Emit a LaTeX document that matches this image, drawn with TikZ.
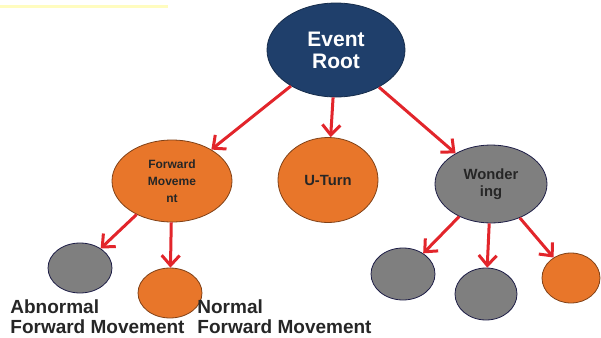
\documentclass[tikz,border=0pt]{standalone}
\usepackage{fontspec}
\setmainfont{Liberation Sans}
\usepackage{tikz}
\usetikzlibrary{shapes.geometric, arrows.meta}
\definecolor{rootBlue}{HTML}{1F3F6B}
\definecolor{evOrange}{HTML}{E8762A}
\definecolor{evGray}{HTML}{7F7F7F}
\definecolor{evRed}{HTML}{E2252B}

\begin{document}
\begin{tikzpicture}[
    x=0.5pt, y=-0.5pt,
    event/.style={ellipse, inner sep=0pt, align=center, font=\bfseries\fontsize{7.4}{8.5}\selectfont, text=black!85},
    rootev/.style={event, fill=rootBlue, draw=rootBlue!70!black, text=white, font=\bfseries\fontsize{10.5}{11}\selectfont},
    orangeev/.style={event, fill=evOrange, draw=evOrange!55!black, thin},
    grayev/.style={event, fill=evGray, draw=evGray!60!blue!40!black, thin},
    caption/.style={anchor=north west, inner sep=0pt, align=left, font=\bfseries\fontsize{9.5}{10.3}\selectfont, text=black!85},
    arrow/.style={-{Straight Barb[length=5pt, width=9pt]}, line width=1.5pt, evRed}
]
    \useasboundingbox (0,0) rectangle (601,338);
    % faint band top left
    \draw[yellow!25, line width=1.5pt] (0,6) -- (168,6);

    % Nodes
    \node[rootev, minimum width=69pt, minimum height=47pt] (root) at (336,50) {Event\\Root};
    \node[orangeev, minimum width=60pt, minimum height=41pt, font=\bfseries\fontsize{6}{8.5}\selectfont] (forward) at (172,181) {Forward\\Moveme\\nt};
    \node[orangeev, minimum width=50pt, minimum height=42.5pt] (uturn) at (328,180) {U-Turn};
    \node[grayev, minimum width=56pt, minimum height=39pt] (wonder) at (491,184) {Wonder\\ing};

    \node[grayev, minimum width=32pt, minimum height=25pt] (abnormal) at (80,268) {};
    \node[orangeev, minimum width=32pt, minimum height=25pt] (normal) at (170,293) {};
    \node[grayev, minimum width=32pt, minimum height=26pt] (wleft) at (403,274) {};
    \node[grayev, minimum width=31pt, minimum height=26pt] (wmid) at (486,294) {};
    \node[orangeev, minimum width=29pt, minimum height=25pt] (wright) at (571,278) {};

    \node[caption] (abnlabel) at (10,299) {Abnormal\\Forward Movement};
    \node[caption] (normlabel) at (197,299) {Normal\\Forward Movement};

    % Connections
    \draw[arrow] (root) -- (forward);
    \draw[arrow] (root) -- (uturn);
    \draw[arrow] (root) -- (wonder);
    \draw[arrow] (forward) -- (abnormal);
    \draw[arrow] (forward) -- (normal);
    \draw[arrow] (wonder) -- (wleft);
    \draw[arrow] (wonder) -- (wmid);
    \draw[arrow] (wonder) -- (wright);

\end{tikzpicture}
\end{document}
